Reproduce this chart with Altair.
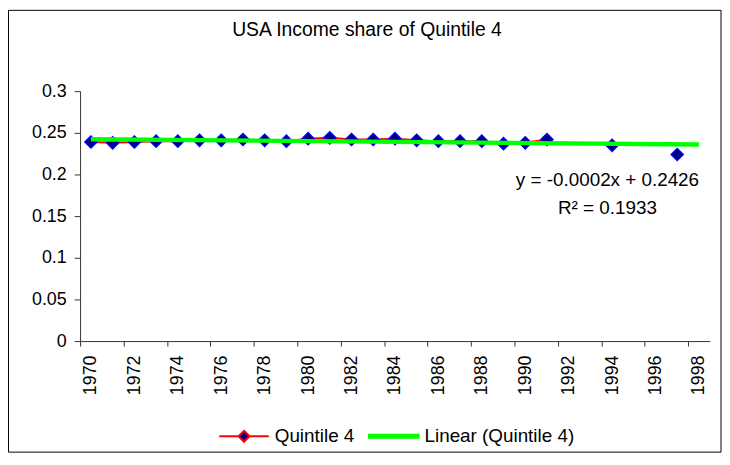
import altair as alt
import pandas as pd

FONT = "Liberation Sans"

# ---- data ----
years = [1970, 1971, 1972, 1973, 1974, 1975, 1976, 1977, 1978, 1979, 1980,
         1981, 1982, 1983, 1984, 1985, 1986, 1987, 1988, 1989, 1990, 1991,
         1994, 1997]
shares = [0.239, 0.238, 0.239, 0.240, 0.240, 0.241, 0.241, 0.242, 0.241, 0.240,
          0.243, 0.244, 0.242, 0.242, 0.243, 0.241, 0.240, 0.240, 0.240, 0.237,
          0.238, 0.242, 0.235, 0.224]
series_names = ["Quintile 4", "Linear (Quintile 4)"]
title_text = "USA Income share of Quintile 4"
eq_text = "y = -0.0002x + 0.2426"
r2_text = "R\u00b2 = 0.1933"
y_ticks = [0, 0.05, 0.1, 0.15, 0.2, 0.25, 0.3]
axis_years = list(range(1970, 1999))

df = pd.DataFrame({"year": years, "share": shares})
# the line is broken wherever years are missing (gaps in the series)
df["segment"] = (df["year"].diff().fillna(1) != 1).cumsum()

# category boundaries (ticks sit between years, labels in the middle)
x_bounds = [y - 0.5 for y in axis_years] + [axis_years[-1] + 0.5]
x_scale = alt.Scale(domain=[x_bounds[0], x_bounds[-1]], nice=False, zero=False)
y_scale = alt.Scale(domain=[0, 0.3], nice=False)

W, H = 635, 252
half_band = W / len(axis_years) / 2

AXIS_COLOR = "#333333"
x_axis = alt.Axis(
    values=x_bounds, title=None, grid=False,
    labelAngle=270, labelAlign="right", labelBaseline="middle",
    labelPadding=9, tickSize=5, labelOffset=half_band,
    labelExpr="(datum.value + 0.5) % 2 == 0 ? format(datum.value + 0.5, 'd') : ''",
    labelOverlap=False, labelFlush=False, labelBound=False,
    labelFontSize=18, labelFont=FONT, labelColor="black",
    domainColor=AXIS_COLOR, tickColor=AXIS_COLOR,
)
y_axis = alt.Axis(
    values=y_ticks, format="~g", title=None, grid=False,
    tickSize=6, labelPadding=8,
    labelFontSize=18, labelFont=FONT, labelColor="black",
    domainColor=AXIS_COLOR, tickColor=AXIS_COLOR,
)

base = alt.Chart(df)
X = alt.X("year:Q", scale=x_scale, axis=x_axis)
Y = alt.Y("share:Q", scale=y_scale, axis=y_axis)

frame = alt.Chart(pd.DataFrame({"k": [0]})).mark_rect(
    fillOpacity=0, stroke="black", strokeWidth=1
).encode(x=alt.value(-72.2), x2=alt.value(646.3), y=alt.value(-81.5), y2=alt.value(364))

title = alt.Chart(pd.DataFrame({"t": [title_text]})).mark_text(
    align="center", baseline="alphabetic", fontSize=19.5, font=FONT, color="black"
).encode(x=alt.value(289.3), y=alt.value(-55.7), text="t:N")

line = base.mark_line(color="#FF0000", strokeWidth=2).encode(
    x=X, y=Y, detail="segment:N"
)

pts = base.mark_point(
    shape="diamond", filled=True, size=155, fill="#000080",
    stroke="#0000FF", strokeWidth=1.3, opacity=1
).encode(x="year:Q", y="share:Q")

trend = base.transform_regression(
    "year", "share", extent=[axis_years[0], axis_years[-1]]
).mark_line(color="#00FF00", strokeWidth=4.5).encode(x="year:Q", y="share:Q")

eq = alt.Chart(pd.DataFrame({"t": [eq_text]})).mark_text(
    align="center", baseline="alphabetic", fontSize=19, font=FONT, color="black"
).encode(x=alt.value(531.8), y=alt.value(96), text="t:N")

r2 = alt.Chart(pd.DataFrame({"t": [r2_text]})).mark_text(
    align="center", baseline="alphabetic", fontSize=19, font=FONT, color="black"
).encode(x=alt.value(531.8), y=alt.value(124), text="t:N")

path_q4 = "M-1,0L-0.22,0M0.22,0L1,0M0,-0.22L0.22,0L0,0.22L-0.22,0Z"
path_lin = "M-1,-0.06L1,-0.06L1,0.06L-1,0.06Z"

leg_obj = alt.Legend(
    orient="none", legendX=139.3, legendY=322, direction="horizontal",
    title=None, symbolSize=2500, symbolStrokeWidth=2,
    labelFontSize=19, labelFont=FONT, labelColor="black",
    labelOffset=5, columnPadding=10, padding=0, labelLimit=400,
)

leg = base.transform_filter("false").transform_calculate(
    series="'Quintile 4'"
).mark_point(opacity=1, strokeWidth=2).encode(
    x="year:Q", y="share:Q",
    fill=alt.Fill("series:N", scale=alt.Scale(domain=series_names, range=["#000080", "#00FF00"]), legend=leg_obj),
    stroke=alt.Stroke("series:N", scale=alt.Scale(domain=series_names, range=["#FF0000", "#00FF00"]), legend=leg_obj),
    shape=alt.Shape("series:N", scale=alt.Scale(domain=series_names, range=[path_q4, path_lin]), legend=leg_obj),
)

chart = alt.layer(frame, title, line, pts, trend, eq, r2, leg).properties(
    width=W, height=H,
    autosize=alt.AutoSizeParams(type="none"),
    padding={"left": 72.7, "top": 82, "right": 12.3, "bottom": 111},
).configure_view(stroke=None)

chart.save("out.html", embed_options={"renderer": "svg", "actions": False})
